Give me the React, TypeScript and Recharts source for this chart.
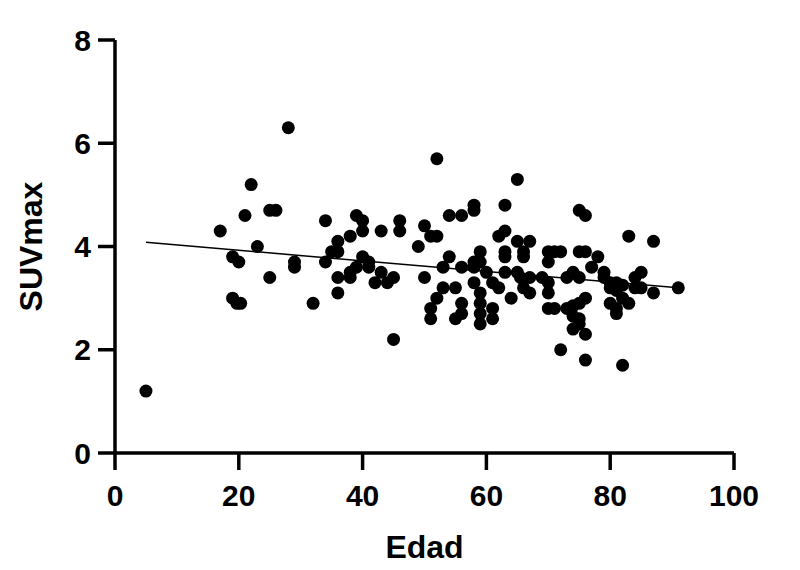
import React from "react";
import { ScatterChart, Scatter, XAxis, YAxis, ReferenceLine, Label } from "recharts";

const edad: number[] = [
  5, 17, 19, 20, 19, 19.7, 20.3, 21, 22, 23, 25, 26, 25, 28, 29, 29, 32,
  34, 34, 35, 36, 36, 36, 36, 38, 38, 38, 39, 39, 40, 40, 40, 41, 41, 42,
  43, 43, 44, 45, 45, 46, 46, 49, 50, 50, 51, 52, 51, 51, 52, 52, 53, 53,
  54, 54, 55, 55, 56, 56, 56, 56, 58, 58, 58, 58, 58, 59, 59, 59, 59, 59,
  59, 60, 61, 61, 61, 62, 63, 63, 63, 63, 63, 62, 64, 65, 65, 67, 66, 66,
  65, 65.5, 66, 67, 67, 69, 70, 70, 70, 70, 70, 71, 72, 71, 73, 73, 74, 74,
  74, 74, 75, 76, 75, 76, 75, 75, 75, 75, 76, 76, 76, 72, 78, 77, 79, 79,
  80, 81, 80, 81, 80, 81, 81, 82, 83, 82, 84, 85, 84, 85, 83, 87, 87, 91, 82,
];
const suvmax: number[] = [
  1.2, 4.3, 3.8, 3.7, 3.0, 2.9, 2.9, 4.6, 5.2, 4.0, 4.7, 4.7, 3.4, 6.3, 3.7, 3.6, 2.9,
  4.5, 3.7, 3.9, 3.9, 4.1, 3.4, 3.1, 4.2, 3.5, 3.4, 4.6, 3.6, 4.5, 4.3, 3.8, 3.7, 3.6, 3.3,
  4.3, 3.5, 3.3, 3.4, 2.2, 4.5, 4.3, 4.0, 4.4, 3.4, 4.2, 4.2, 2.8, 2.6, 5.7, 3.0, 3.6, 3.2,
  4.6, 3.8, 3.2, 2.6, 4.6, 3.6, 2.9, 2.7, 4.8, 4.7, 3.6, 3.3, 3.7, 3.9, 3.7, 3.1, 2.9, 2.7,
  2.5, 3.5, 2.8, 2.6, 3.3, 4.2, 4.3, 4.8, 3.9, 3.8, 3.5, 3.2, 3.0, 5.3, 4.1, 4.1, 3.9, 3.8,
  3.5, 3.4, 3.2, 3.1, 3.4, 3.4, 3.7, 3.9, 3.1, 2.8, 3.3, 3.9, 3.9, 2.8, 3.4, 2.8, 3.5, 2.85,
  2.65, 2.4, 4.7, 4.6, 3.9, 3.9, 3.4, 2.6, 2.5, 2.9, 3.0, 2.3, 1.8, 2.0, 3.8, 3.6, 3.5, 3.4,
  3.3, 3.3, 3.2, 3.15, 2.9, 2.7, 2.8, 3.0, 2.9, 3.25, 3.2, 3.2, 3.4, 3.5, 4.2, 4.1, 3.1, 3.2, 1.7,
];

const fitX: number[] = [5, 91];
const fitY: number[] = [4.08, 3.2];

const xTicks: number[] = [0, 20, 40, 60, 80, 100];
const yTicks: number[] = [0, 2, 4, 6, 8];

const points = edad.map((x, i) => ({ x, y: suvmax[i] }));
const fitSegment = fitX.map((x, i) => ({ x, y: fitY[i] }));

const font = "'Liberation Sans', Arial, Helvetica, sans-serif";
const tickStyle = { fontFamily: font, fontWeight: 700, fontSize: 30, fill: "#000" };

const Dot = (props: any) => {
  const { cx, cy } = props;
  if (cx == null || cy == null) return null;
  return <circle cx={cx} cy={cy} r={6.5} fill="#000" />;
};

export default function App() {
  return (
    <div style={{ width: 784, height: 560, background: "#fff" }}>
      <ScatterChart
        width={784}
        height={560}
        margin={{ top: 32, right: 58, bottom: 5, left: 0 }}
      >
        <XAxis
          type="number"
          dataKey="x"
          domain={[0, 100]}
          ticks={xTicks}
          interval={0}
          height={110}
          tickSize={17}
          tickMargin={15}
          axisLine={{ stroke: "#000", strokeWidth: 3.5 }}
          tickLine={{ stroke: "#000", strokeWidth: 3.5 }}
          tick={tickStyle}
        >
          <Label
            value="Edad"
            position="insideBottom"
            offset={5}
            style={{ fontFamily: font, fontWeight: 700, fontSize: 32, fill: "#000" }}
          />
        </XAxis>
        <YAxis
          type="number"
          dataKey="y"
          domain={[0, 8]}
          ticks={yTicks}
          interval={0}
          width={107}
          tickSize={17}
          tickMargin={7}
          axisLine={{ stroke: "#000", strokeWidth: 3.5 }}
          tickLine={{ stroke: "#000", strokeWidth: 3.5 }}
          tick={tickStyle}
        >
          <Label
            value="SUVmax"
            angle={-90}
            position="insideLeft"
            offset={23}
            style={{ fontFamily: font, fontWeight: 700, fontSize: 32, fill: "#000", textAnchor: "middle" }}
          />
        </YAxis>
        <ReferenceLine
          segment={fitSegment}
          stroke="#000"
          strokeWidth={1.5}
          ifOverflow="visible"
        />
        <Scatter data={points} shape={<Dot />} isAnimationActive={false} />
      </ScatterChart>
    </div>
  );
}
